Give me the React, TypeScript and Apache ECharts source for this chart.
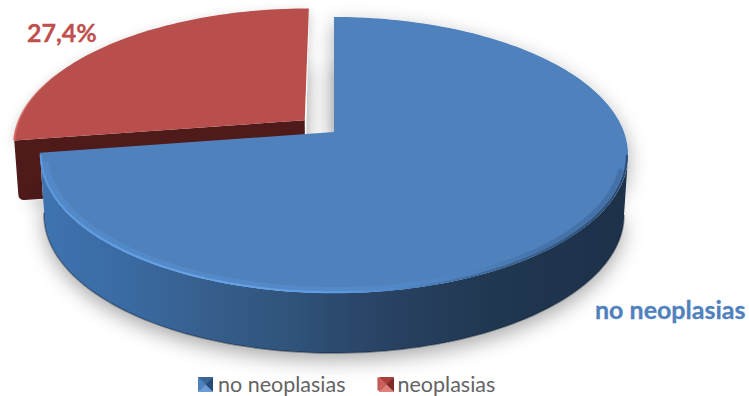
import React, { useEffect, useRef } from "react";
import * as echarts from "echarts";

// Shares shown by the pie, clockwise from twelve o'clock
const categories = ["no neoplasias", "neoplasias"];
const shares = [72.6, 27.4];
const topColors = ["#4f81bd", "#b94f4c"];
const labelColors = ["#4f81bd", "#c0504d"];
const explosions = [0, 0.135];

// Perspective projection of the unit disc onto the page
const CX = 334;
const CY = 132;
const A = 134.2;
const B = 290;
const K = 0.1667;
const WALL_DROP = 60;
const WALL_SCALE = 0.986;
const TOTAL = shares.reduce((s, v) => s + v, 0);

const rad = (deg: number) => (deg * Math.PI) / 180;

function sliceAngles(index: number) {
  const before = shares.slice(0, index).reduce((s, v) => s + v, 0);
  return [(before / TOTAL) * 360, ((before + shares[index]) / TOTAL) * 360];
}

function planePoint(u: number, v: number, lower: boolean) {
  const d = 1 + K * u;
  let x = CX + (B * v) / d;
  let y = CY - (A * u) / d;
  if (lower) {
    x = CX + (x - CX) * WALL_SCALE;
    y += WALL_DROP;
  }
  return [x, y];
}

function rimArc(from: number, to: number, eu: number, ev: number, lower: boolean, radius = 1) {
  const pts: number[][] = [];
  const steps = Math.max(2, Math.ceil(Math.abs(to - from) / 1.5));
  for (let i = 0; i <= steps; i++) {
    const t = rad(from + ((to - from) * i) / steps);
    pts.push(planePoint(radius * Math.cos(t) + eu, radius * Math.sin(t) + ev, lower));
  }
  return pts;
}

// Replaces a sharp polygon corner by a short quadratic curve
function roundCorner(prev: number[], c: number[], next: number[], r: number) {
  const toward = (p: number[]) => {
    const len = Math.hypot(p[0] - c[0], p[1] - c[1]);
    return [c[0] + ((p[0] - c[0]) * r) / len, c[1] + ((p[1] - c[1]) * r) / len];
  };
  const a = toward(prev);
  const b = toward(next);
  const out: number[][] = [];
  for (let i = 0; i <= 6; i++) {
    const t = i / 6;
    out.push([
      (1 - t) * (1 - t) * a[0] + 2 * t * (1 - t) * c[0] + t * t * b[0],
      (1 - t) * (1 - t) * a[1] + 2 * t * (1 - t) * c[1] + t * t * b[1],
    ]);
  }
  return out;
}

const horizontal = (stops: [number, string][]) =>
  new echarts.graphic.LinearGradient(
    0,
    0,
    1,
    0,
    stops.map(([offset, color]) => ({ offset, color }))
  );

function renderBlue() {
  const [from, to] = sliceAngles(0);
  const apex = planePoint(0, 0, false);
  const top = [apex, ...rimArc(from, to, 0, 0, false)];
  const frontFrom = Math.max(from, 99.6);
  const upper = rimArc(frontFrom, to, 0, 0, false);
  const lower = rimArc(frontFrom, to, 0, 0, true);
  const wall = [...upper, ...lower.slice().reverse()];
  const silhouette = [...top, ...lower.slice().reverse()];
  return {
    type: "group",
    children: [
      {
        type: "polygon",
        shape: { points: silhouette },
        style: {
          fill: "#ffffff",
          shadowBlur: 20,
          shadowColor: "rgba(0,0,0,0.34)",
          shadowOffsetY: 7,
        },
      },
      {
        type: "polygon",
        shape: { points: wall },
        style: {
          fill: horizontal([
            [0, "#3f74b0"],
            [0.15, "#3a6aa2"],
            [0.27, "#37608f"],
            [0.44, "#2f5278"],
            [0.5, "#2c4a70"],
            [0.62, "#27405f"],
            [0.78, "#203750"],
            [1, "#1d3149"],
          ]),
        },
      },
      {
        type: "polyline",
        shape: { points: lower },
        style: { fill: "none", stroke: "rgba(12,26,44,0.45)", lineWidth: 1.5 },
      },
      {
        type: "polygon",
        shape: { points: top },
        style: { fill: topColors[0] },
      },
      // Soft bevel just inside the rim, then the sharper rim light
      {
        type: "polyline",
        shape: { points: rimArc(frontFrom + 6, to - 4, 0, 0, false, 0.982) },
        style: {
          fill: "none",
          lineWidth: 5,
          opacity: 0.3,
          stroke: horizontal([
            [0, "#5d9be0"],
            [0.55, "#5f9de2"],
            [0.72, "#4f87c6"],
            [0.86, "#2f5580"],
            [1, "#2a4a72"],
          ]),
        },
      },
      {
        type: "polyline",
        shape: { points: rimArc(frontFrom, to - 1, 0, 0, false, 0.996) },
        style: {
          fill: "none",
          lineWidth: 2,
          stroke: horizontal([
            [0, "#5d9be0"],
            [0.28, "#66a3ea"],
            [0.5, "#5f9de2"],
            [0.65, "#4a7fbc"],
            [0.8, "#38608f"],
            [1, "#2a4a72"],
          ]),
        },
      },
      {
        type: "text",
        style: {
          text: categories[0],
          x: 595,
          y: 309,
          verticalAlign: "middle",
          fill: labelColors[0],
          stroke: labelColors[0],
          lineWidth: 0.3,
          font: "bold 25px Lato",
        },
      },
    ],
  };
}

function renderRed(value: number) {
  const [from, to] = sliceAngles(1);
  const mid = rad((from + to) / 2);
  const eu = Math.cos(mid) * explosions[1];
  const ev = Math.sin(mid) * explosions[1];
  const apex = planePoint(eu, ev, false);
  const arc = rimArc(from, to, eu, ev, false);
  const top = [apex, ...arc];
  const outerTop = arc[0];
  const outerLow = planePoint(Math.cos(rad(from)) + eu, Math.sin(rad(from)) + ev, true);
  const apexLow = planePoint(eu, ev, true);
  const wall = [
    apex,
    outerTop,
    ...roundCorner(outerTop, outerLow, apexLow, 6),
    apexLow,
  ];
  // Faint cast shadow in the gap between the two slices
  const gapRight = planePoint(0, 0, false)[0];
  const gapLeft = apex[0];
  const gapBottom = apex[1] + 14;
  return {
    type: "group",
    children: [
      {
        type: "rect",
        shape: { x: gapLeft, y: 58, width: gapRight - gapLeft, height: gapBottom - 58 },
        style: {
          fill: horizontal([
            [0, "#e2e2e2"],
            [0.5, "#f5f5f5"],
            [0.75, "#f3f3f3"],
            [1, "#e3e3e3"],
          ]),
        },
      },
      {
        type: "rect",
        shape: { x: gapLeft, y: 56, width: gapRight - gapLeft, height: 24 },
        style: {
          fill: new echarts.graphic.LinearGradient(0, 0, 0, 1, [
            { offset: 0, color: "rgba(255,255,255,1)" },
            { offset: 1, color: "rgba(255,255,255,0)" },
          ]),
        },
      },
      {
        type: "polygon",
        shape: { points: [...top, apexLow, outerLow] },
        style: {
          fill: "#ffffff",
          shadowBlur: 12,
          shadowColor: "rgba(0,0,0,0.22)",
          shadowOffsetY: 4,
        },
      },
      {
        type: "polygon",
        shape: { points: wall },
        style: { fill: "#4f1a1a" },
      },
      {
        type: "polygon",
        shape: { points: top },
        style: { fill: topColors[1] },
      },
      {
        type: "polyline",
        shape: { points: arc.slice(0, 24) },
        style: {
          fill: "none",
          lineWidth: 2,
          stroke: new echarts.graphic.LinearGradient(0, 1, 0, 0, [
            { offset: 0, color: "#d9625e" },
            { offset: 1, color: "rgba(201,85,82,0)" },
          ]),
        },
      },
      {
        type: "text",
        style: {
          text: `${value.toFixed(1).replace(".", ",")}%`,
          x: 27,
          y: 32,
          verticalAlign: "middle",
          fill: labelColors[1],
          stroke: labelColors[1],
          lineWidth: 0.3,
          font: "bold 25px Lato",
        },
      },
    ],
  };
}

// Four-facet bevel laid over a square legend key
function bevel(x: number, y: number, size: number, faces: string[]) {
  const c = [x + size / 2, y + size / 2];
  const tl = [x, y];
  const tr = [x + size, y];
  const br = [x + size, y + size];
  const bl = [x, y + size];
  const tris = [
    [tl, tr, c],
    [tr, br, c],
    [br, bl, c],
    [bl, tl, c],
  ];
  return tris.map((points, i) => ({
    type: "polygon",
    silent: true,
    z: 100,
    shape: { points },
    style: { fill: faces[i] },
  }));
}

export default function App() {
  const ref = useRef<HTMLDivElement>(null);
  useEffect(() => {
    const chart = echarts.init(ref.current!, undefined, { renderer: "svg" });
    chart.setOption({
      animation: false,
      backgroundColor: "#ffffff",
      legend: {
        data: categories,
        left: 198,
        top: 373,
        padding: 0,
        itemWidth: 15,
        itemHeight: 13,
        itemGap: 32,
        icon: "rect",
        selectedMode: false,
        textStyle: {
          color: "#636363",
          fontFamily: "Lato",
          fontSize: 21.5,
        },
      },
      graphic: {
        elements: [
          ...bevel(198, 377, 15, ["#3a6596", "#254a75", "#6a9bd4", "#4f81bd"]),
          ...bevel(379, 377, 15, ["#a8403d", "#7d2a28", "#e0807c", "#c9605c"]),
        ],
      },
      // The exploded slice goes first so the large slice overlaps it
      series: [
        {
          type: "custom",
          name: categories[1],
          coordinateSystem: "none",
          z: 1,
          itemStyle: { color: labelColors[1] },
          data: [[shares[1]]],
          renderItem: (_: unknown, api: any) => renderRed(api.value(0)),
        },
        {
          type: "custom",
          name: categories[0],
          coordinateSystem: "none",
          z: 2,
          itemStyle: { color: labelColors[0] },
          data: [[shares[0]]],
          renderItem: () => renderBlue(),
        },
      ],
    });
    return () => chart.dispose();
  }, []);
  return (
    <div
      ref={ref}
      style={{ position: "absolute", left: 0, top: 0, width: 749, height: 396 }}
    />
  );
}
